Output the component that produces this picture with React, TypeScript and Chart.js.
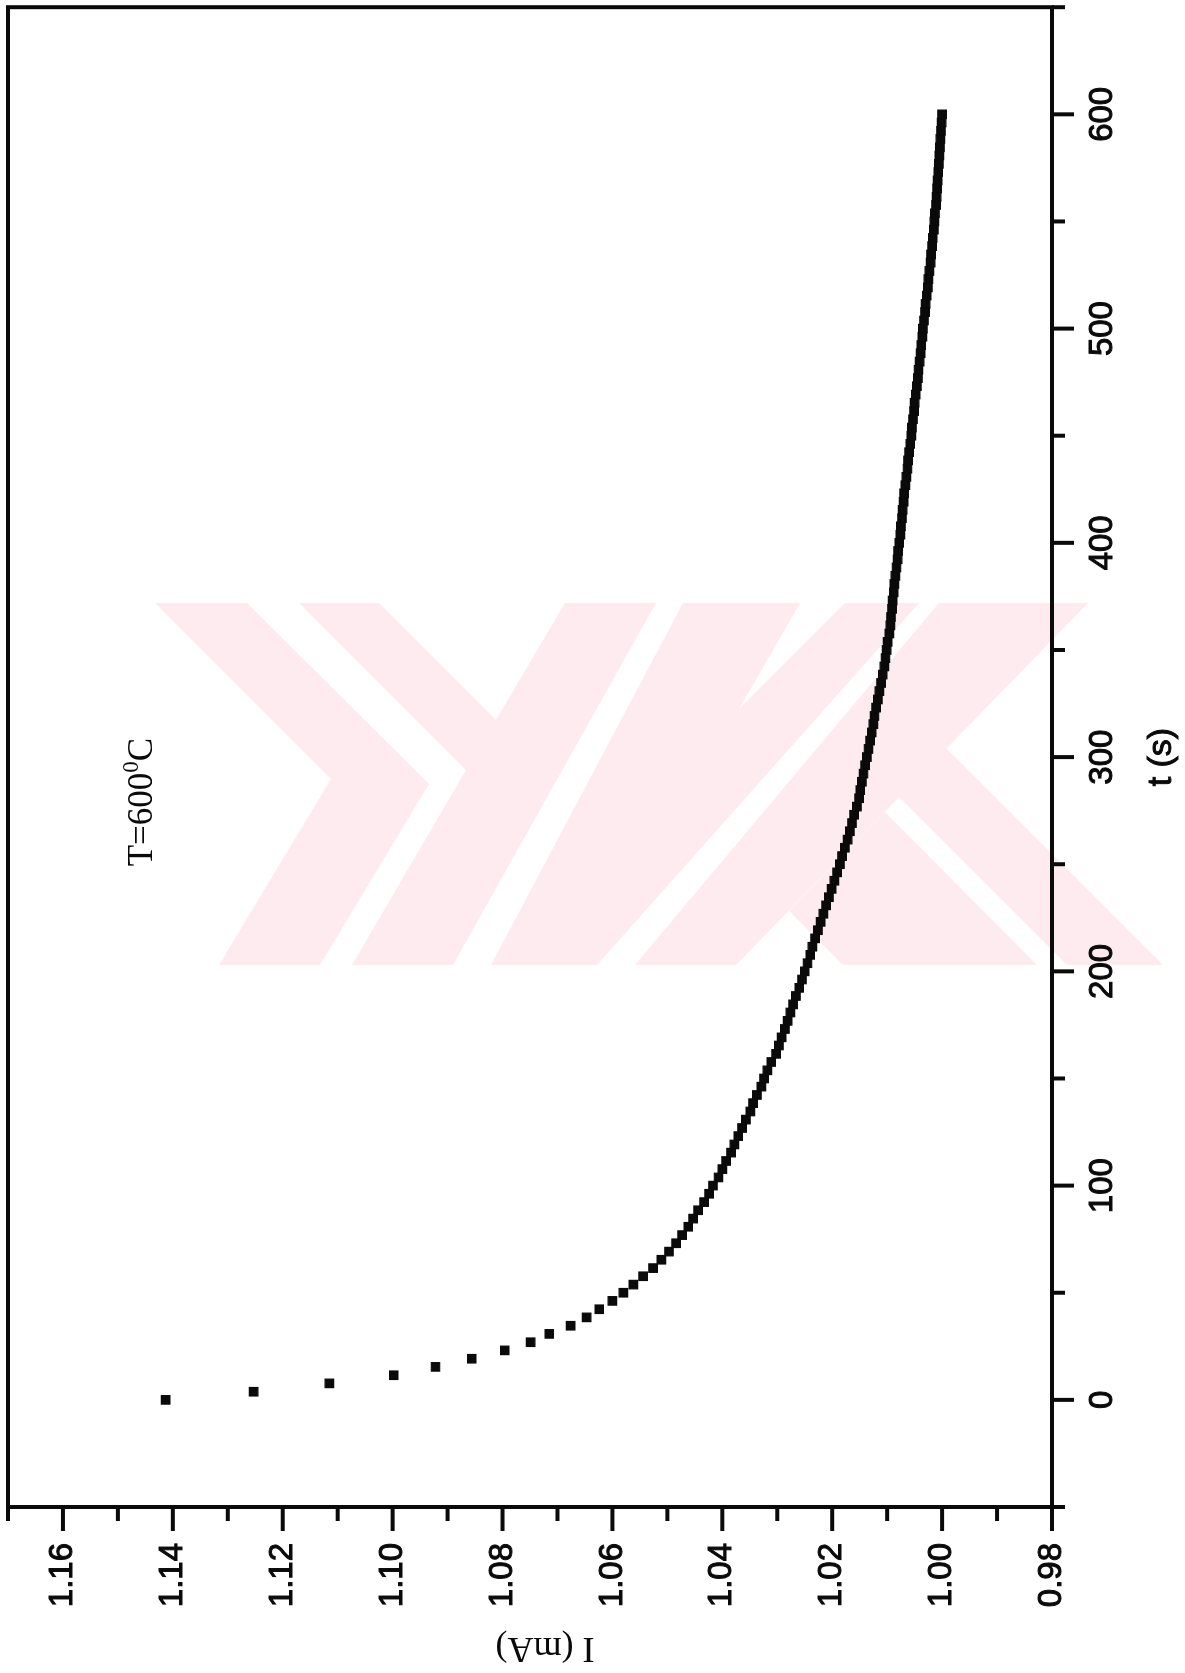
import { useEffect, useRef } from "react";
import { Chart, registerables } from "chart.js";

Chart.register(...registerables);

// The plot is laid out with time along the canvas width, then the whole
// canvas is turned a quarter turn counter-clockwise on the page.
const CANVAS_W = 1673;
const CANVAS_H = 1185;
const INK = "#0a0a0a";

// Sampling times (s)
const timeS = [
  0, 3.8, 7.7, 11.5, 15.4, 19.2, 23.1, 26.9, 30.8, 34.6,
  38.5, 42.3, 46.2, 50.0, 53.8, 57.7, 61.5, 65.4, 69.2, 73.1,
  76.9, 80.8, 84.6, 88.5, 92.3, 96.2, 100.0, 103.8, 107.7, 111.5,
  115.4, 119.2, 123.1, 126.9, 130.8, 134.6, 138.5, 142.3, 146.2, 150.0,
  153.8, 157.7, 161.5, 165.4, 169.2, 173.1, 176.9, 180.8, 184.6, 188.5,
  192.3, 196.2, 200.0, 203.8, 207.7, 211.5, 215.4, 219.2, 223.1, 226.9,
  230.8, 234.6, 238.5, 242.3, 246.2, 250.0, 253.8, 257.7, 261.5, 265.4,
  269.2, 273.1, 276.9, 280.8, 284.6, 288.5, 292.3, 296.2, 300.0, 303.8,
  307.7, 311.5, 315.4, 319.2, 323.1, 326.9, 330.8, 334.6, 338.5, 342.3,
  346.2, 350.0, 353.8, 357.7, 361.5, 365.4, 369.2, 373.1, 376.9, 380.8,
  384.6, 388.5, 392.3, 396.2, 400.0, 403.8, 407.7, 411.5, 415.4, 419.2,
  423.1, 426.9, 430.8, 434.6, 438.5, 442.3, 446.2, 450.0, 453.8, 457.7,
  461.5, 465.4, 469.2, 473.1, 476.9, 480.8, 484.6, 488.5, 492.3, 496.2,
  500.0, 503.8, 507.7, 511.5, 515.4, 519.2, 523.1, 526.9, 530.8, 534.6,
  538.5, 542.3, 546.2, 550.0, 553.8, 557.7, 561.5, 565.4, 569.2, 573.1,
  576.9, 580.8, 584.6, 588.5, 592.3, 596.2, 600.0,
];

// Measured current (mA) at T = 600 °C
const currentMA = [
  1.1413, 1.1253, 1.1115, 1.0998, 1.0922, 1.0856, 1.0796, 1.0749, 1.0715, 1.0676,
  1.0647, 1.0624, 1.0600, 1.0580, 1.0562, 1.0544, 1.0526, 1.0511, 1.0497, 1.0484,
  1.0473, 1.0462, 1.0453, 1.0444, 1.0433, 1.0424, 1.0417, 1.0407, 1.0400, 1.0393,
  1.0384, 1.0378, 1.0371, 1.0364, 1.0357, 1.0349, 1.0344, 1.0337, 1.0329, 1.0324,
  1.0318, 1.0311, 1.0302, 1.0297, 1.0292, 1.0286, 1.0281, 1.0276, 1.0271, 1.0266,
  1.0260, 1.0255, 1.0250, 1.0245, 1.0240, 1.0236, 1.0231, 1.0226, 1.0221, 1.0216,
  1.0211, 1.0206, 1.0201, 1.0196, 1.0191, 1.0186, 1.0182, 1.0177, 1.0172, 1.0168,
  1.0164, 1.0160, 1.0155, 1.0151, 1.0149, 1.0146, 1.0143, 1.0140, 1.0137, 1.0134,
  1.0131, 1.0128, 1.0125, 1.0123, 1.0120, 1.0117, 1.0114, 1.0111, 1.0108, 1.0105,
  1.0103, 1.0101, 1.0099, 1.0096, 1.0094, 1.0093, 1.0091, 1.0090, 1.0088, 1.0087,
  1.0085, 1.0083, 1.0081, 1.0080, 1.0078, 1.0076, 1.0075, 1.0073, 1.0072, 1.0070,
  1.0069, 1.0067, 1.0065, 1.0063, 1.0062, 1.0060, 1.0058, 1.0056, 1.0055, 1.0053,
  1.0051, 1.0050, 1.0048, 1.0046, 1.0044, 1.0043, 1.0041, 1.0039, 1.0038, 1.0036,
  1.0035, 1.0033, 1.0031, 1.0030, 1.0028, 1.0026, 1.0025, 1.0023, 1.0021, 1.0020,
  1.0018, 1.0017, 1.0015, 1.0014, 1.0013, 1.0011, 1.0010, 1.0009, 1.0008, 1.0007,
  1.0006, 1.0005, 1.0004, 1.0003, 1.0002, 1.0001, 1.0000,
];

// Axis ranges and tick steps
const timeRange = [-50, 650];
const timeStep = 50;
const currentRange = [0.98, 1.17];
const currentStep = 0.01;

const timeTitle = "t (s)";
const currentTitle = "I (mA)";
const tempText = ["T=600", "0", "C"];

const SANS = "'Liberation Sans', Arial, Helvetica, sans-serif";
const SERIF = "'Liberation Serif', 'Times New Roman', serif";

// Faint emblem printed behind the plot, in upright page coordinates
const LOGO_FILL = "#fdebf0";
const logoBands: number[][][] = [
  [[155, 603], [247, 603], [429, 784], [320, 965], [219, 965], [331, 779]],
  [[299, 603], [379, 603], [496, 720], [565, 603], [656, 603], [453, 965], [352, 965], [466, 770]],
  [[683, 603], [800, 603], [592, 965], [491, 965]],
  [[845, 603], [919, 603], [597, 965], [560, 965], [739, 709]],
  [[939, 603], [1088, 603], [736, 965], [635, 965]],
  [[946, 748], [1163, 965], [1067, 965], [899, 797]],
  [[885, 812], [1037, 965], [843, 965], [789, 911]],
];

const logoPlugin = {
  id: "emblem",
  beforeDraw(chart: any) {
    const { ctx } = chart;
    ctx.save();
    // map upright page (x, y) onto the turned canvas
    ctx.transform(0, 1, -1, 0, CANVAS_W, 0);
    ctx.fillStyle = LOGO_FILL;
    for (const poly of logoBands) {
      ctx.beginPath();
      poly.forEach(([px, py], k) => (k ? ctx.lineTo(px, py) : ctx.moveTo(px, py)));
      ctx.closePath();
      ctx.fill();
    }
    ctx.restore();
  },
};

const axesPlugin = {
  id: "axesFrame",
  afterDraw(chart: any) {
    const { ctx, chartArea: a } = chart;
    const xs = chart.scales.x;
    const ys = chart.scales.y;
    ctx.save();
    ctx.strokeStyle = INK;
    ctx.fillStyle = INK;
    ctx.lineWidth = 4;
    ctx.lineCap = "butt";

    // box
    ctx.strokeRect(a.left, a.top, a.right - a.left, a.bottom - a.top);

    // time ticks, pointing outward
    for (const tk of xs.ticks) {
      const px = xs.getPixelForValue(tk.value);
      const len = tk.label ? 22 : 13;
      ctx.beginPath();
      ctx.moveTo(px, a.bottom);
      ctx.lineTo(px, a.bottom + len);
      ctx.stroke();
    }
    // current ticks, pointing outward
    for (const tk of ys.ticks) {
      const py = ys.getPixelForValue(tk.value);
      const len = tk.label ? 24 : 14;
      ctx.beginPath();
      ctx.moveTo(a.left, py);
      ctx.lineTo(a.left - len, py);
      ctx.stroke();
    }

    // axis titles
    ctx.lineWidth = 1;
    ctx.textAlign = "center";
    ctx.textBaseline = "middle";
    ctx.font = `34px ${SANS}`;
    const tx = (a.left + a.right) / 2;
    ctx.fillText(timeTitle, tx, 1162);
    ctx.strokeText(timeTitle, tx, 1162);

    ctx.save();
    ctx.translate(26, (a.top + a.bottom) / 2 + 15);
    ctx.rotate(-Math.PI / 2);
    ctx.font = `36px ${SERIF}`;
    ctx.fillText(currentTitle, 0, 0);
    ctx.restore();

    // temperature note with superscript
    const cx = xs.getPixelForValue(279);
    const cy = ys.getPixelForValue(1.146);
    const big = `35px ${SERIF}`;
    const small = `23px ${SERIF}`;
    ctx.font = big;
    const w1 = ctx.measureText(tempText[0]).width;
    const w3 = ctx.measureText(tempText[2]).width;
    ctx.font = small;
    const w2 = ctx.measureText(tempText[1]).width;
    const x0 = cx - (w1 + w2 + w3) / 2;
    const base = cy + 12;
    ctx.textAlign = "left";
    ctx.textBaseline = "alphabetic";
    ctx.font = big;
    ctx.fillText(tempText[0], x0, base);
    ctx.font = small;
    ctx.fillText(tempText[1], x0 + w1, base - 14);
    ctx.font = big;
    ctx.fillText(tempText[2], x0 + w1 + w2, base);
    ctx.restore();
  },
};

const noPadding = (s: any) => {
  s.paddingTop = 0;
  s.paddingBottom = 0;
  s.paddingLeft = 0;
  s.paddingRight = 0;
};

export default function App() {
  const ref = useRef<HTMLCanvasElement>(null);

  useEffect(() => {
    const points = timeS.map((t, k) => ({ x: t, y: currentMA[k] }));
    const chart = new Chart(ref.current as HTMLCanvasElement, {
      type: "scatter",
      data: {
        datasets: [
          {
            data: points,
            showLine: false,
            pointStyle: "rect",
            pointRadius: 6,
            pointBorderWidth: 1.2,
            backgroundColor: INK,
            borderColor: INK,
          },
        ],
      },
      options: {
        responsive: false,
        maintainAspectRatio: false,
        devicePixelRatio: 1,
        animation: false,
        layout: { padding: { top: 8, right: 2, left: 0, bottom: 0 } },
        plugins: { legend: { display: false }, tooltip: { enabled: false } },
        scales: {
          x: {
            type: "linear",
            position: "bottom",
            min: timeRange[0],
            max: timeRange[1],
            grid: { display: false, drawTicks: false },
            border: { display: false },
            ticks: {
              stepSize: timeStep,
              autoSkip: false,
              maxRotation: 0,
              padding: 31,
              color: INK,
              textStrokeColor: INK,
              textStrokeWidth: 1,
              font: { family: SANS, size: 33 },
              callback: (v: any) => (Number(v) % 100 === 0 ? String(v) : ""),
            },
            afterFit: (s: any) => {
              s.height = 133;
              noPadding(s);
            },
          },
          y: {
            type: "linear",
            position: "left",
            min: currentRange[0],
            max: currentRange[1],
            grid: { display: false, drawTicks: false },
            border: { display: false },
            ticks: {
              stepSize: currentStep,
              autoSkip: false,
              padding: 36,
              color: INK,
              textStrokeColor: INK,
              textStrokeWidth: 1,
              font: { family: SANS, size: 33 },
              callback: (v: any) =>
                Math.round(Number(v) * 100) % 2 === 0 ? Number(v).toFixed(2) : "",
            },
            afterFit: (s: any) => {
              s.width = 166;
              noPadding(s);
            },
          },
        },
      },
      plugins: [logoPlugin, axesPlugin],
    });
    return () => chart.destroy();
  }, []);

  return (
    <div
      style={{
        position: "fixed",
        left: 0,
        top: 0,
        width: CANVAS_W,
        height: CANVAS_H,
        background: "#fff",
        transformOrigin: "0 0",
        transform: `translate(0px, ${CANVAS_W}px) rotate(-90deg)`,
      }}
    >
      <canvas
        ref={ref}
        width={CANVAS_W}
        height={CANVAS_H}
        style={{ display: "block", width: CANVAS_W, height: CANVAS_H }}
      />
    </div>
  );
}
